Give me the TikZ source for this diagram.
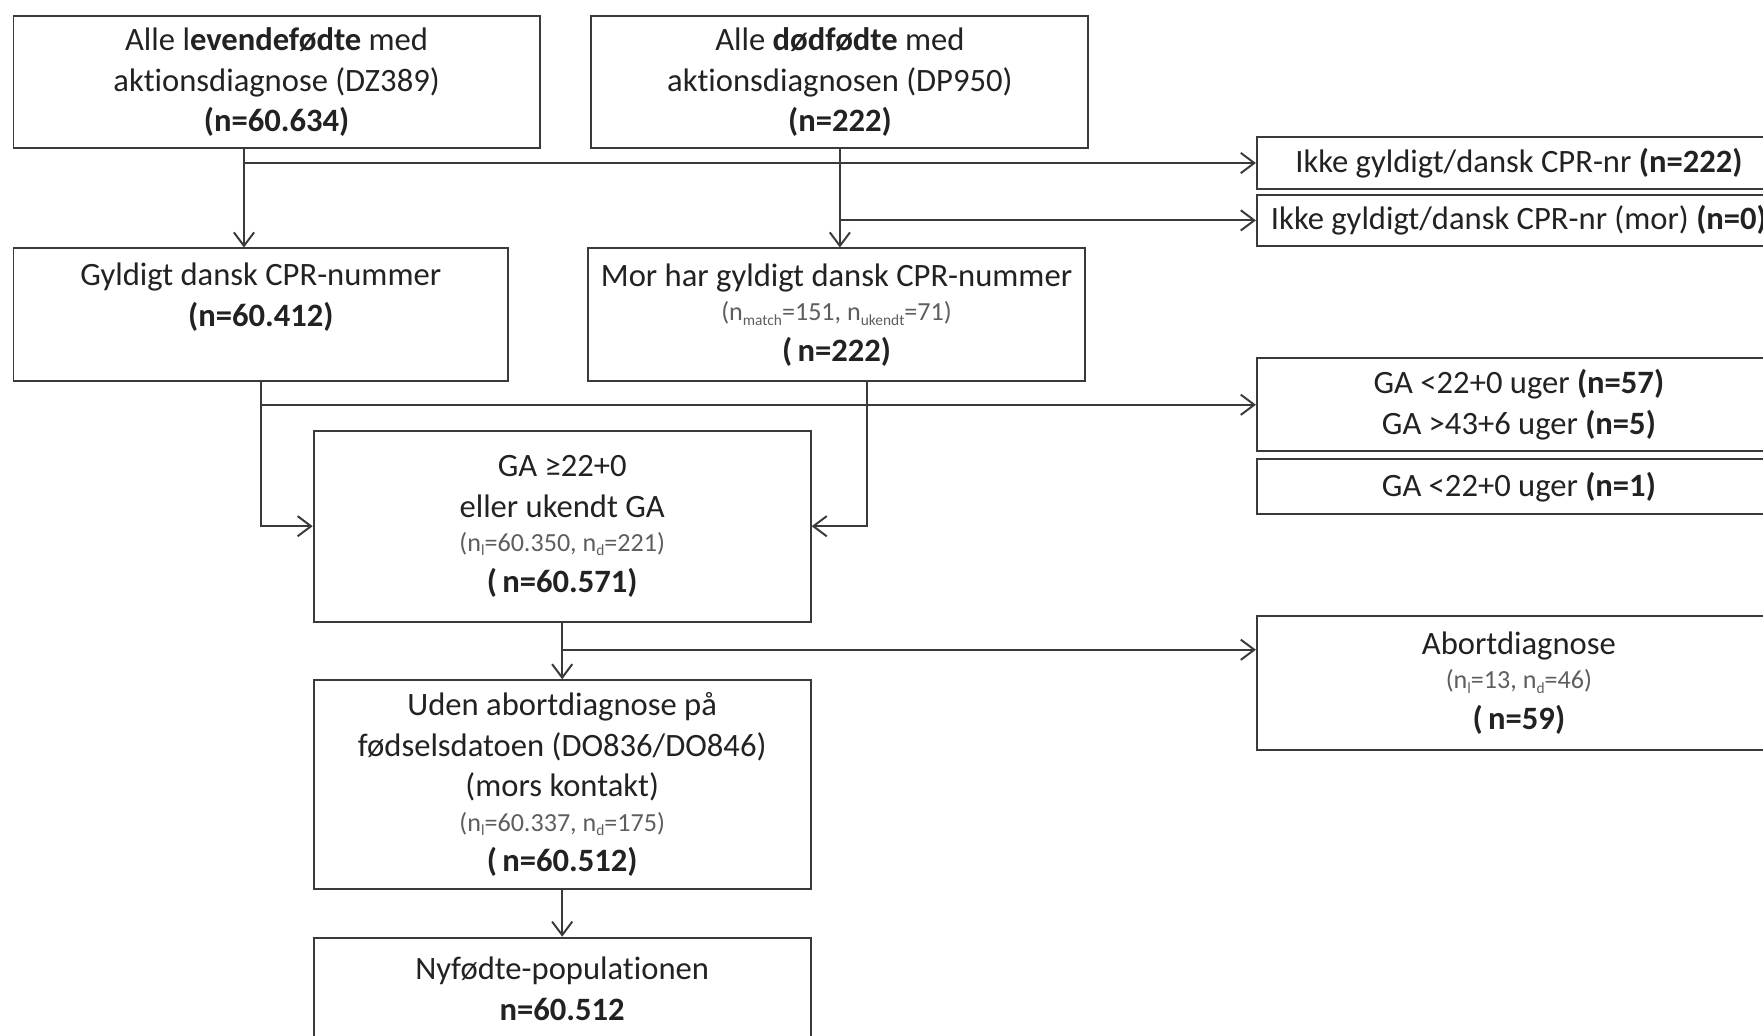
\documentclass[tikz,border=0pt]{standalone}
\usepackage{fontspec}
\setmainfont{Carlito}[Ligatures=NoCommon]
\setsansfont{Carlito}[Ligatures=NoCommon]
\usepackage{tikz}
\usetikzlibrary{arrows.meta,positioning,calc}
\definecolor{lineGray}{HTML}{3A3A3A}
\definecolor{textDark}{HTML}{222222}
\definecolor{textMuted}{HTML}{5E5E5E}
\newcommand{\nsub}[1]{n\raisebox{-0.35ex}{\fontsize{7.8}{8}\selectfont #1}}
\newcommand{\counts}[1]{{\fontsize{13.2}{16.5}\selectfont\color{textMuted}#1}}
\tikzset{
  >={Straight Barb[length=2.4mm,width=3.6mm]},
  every picture/.append style={font=\sffamily\fontsize{16.5}{20.5}\selectfont},
  box/.style={rectangle,draw=lineGray,line width=1pt,fill=white,inner sep=4pt,align=center,text=textDark},
  sidebox/.style={box,anchor=west,minimum width=9.32cm},
  flowarrow/.style={->,draw=lineGray,line width=1pt},
}

\begin{document}
\begin{tikzpicture}[x=1cm,y=1cm]
  \useasboundingbox (0,0) rectangle (31.36,-18.42);
  \clip (0,0) rectangle (31.36,-18.42);

  % top row
  \node[box, minimum width=9.36cm, minimum height=2.34cm] (live) at (4.92,-1.46)
    {Alle l\textbf{evendefødte} med\\aktionsdiagnose (DZ389)\\\textbf{(n=60.634)}};
  \node[box, minimum width=8.84cm, minimum height=2.36cm] (dead) at (14.94,-1.46)
    {Alle \textbf{dødfødte} med\\aktionsdiagnosen (DP950)\\\textbf{(n=222)}};

  % second row
  \node[box, minimum width=8.8cm, minimum height=2.36cm] (gyld) at (4.64,-5.6)
    {Gyldigt dansk CPR-nummer\\\textbf{(n=60.412)}\\\mbox{}};
  \node[box, minimum width=8.84cm, minimum height=2.36cm] (mor) at (14.88,-5.6)
    {Mor har gyldigt dansk CPR-nummer\\[-3pt]\counts{(\nsub{match}=151, \nsub{ukendt}=71)}\\\textbf{(\,n=222)}};

  % main column
  \node[box, minimum width=8.84cm, minimum height=3.4cm] (ga) at (10.0,-9.36)
    {GA ≥22+0\\eller ukendt GA\\[-3pt]\counts{(\nsub{l}=60.350, \nsub{d}=221)}\\\textbf{(\,n=60.571)}};
  \node[box, minimum width=8.84cm, minimum height=3.72cm] (uden) at (10.0,-13.96)
    {Uden abortdiagnose på\\fødselsdatoen (DO836/DO846)\\(mors kontakt)\\[-3pt]\counts{(\nsub{l}=60.337, \nsub{d}=175)}\\\textbf{(\,n=60.512)}};
  \node[box, minimum width=8.84cm, minimum height=1.82cm] (nyf) at (10.0,-17.59)
    {Nyfødte-populationen\\\textbf{n=60.512}};

  % exclusions
  \node[sidebox, minimum height=0.92cm] (ikkecpr) at (22.34,-2.9)
    {Ikke gyldigt/dansk CPR-nr \textbf{(n=222)}};
  \node[sidebox, minimum height=0.92cm] (ikkemor) at (22.34,-3.92)
    {Ikke gyldigt/dansk CPR-nr (mor) \textbf{(n=0)}};
  \node[sidebox, minimum height=1.66cm] (gaex) at (22.34,-7.2)
    {GA <22+0 uger \textbf{(n=57)}\\GA >43+6 uger \textbf{(n=5)}};
  \node[sidebox, minimum height=0.98cm] (gaone) at (22.34,-8.66)
    {GA <22+0 uger \textbf{(n=1)}};
  \node[sidebox, minimum height=2.38cm] (abort) at (22.34,-12.15)
    {Abortdiagnose\\[-3pt]\counts{(\nsub{l}=13, \nsub{d}=46)}\\\textbf{(\,n=59)}};

  % flows
  \coordinate (livedrop) at ([xshift=-0.58cm]live.south);
  \draw[flowarrow] (livedrop) -- (livedrop |- gyld.north);
  \draw[flowarrow] (livedrop |- ikkecpr.west) -- (ikkecpr.west);

  \draw[flowarrow] (dead.south) -- (dead.south |- mor.north);
  \draw[flowarrow] (dead.south |- ikkemor.west) -- (ikkemor.west);

  \draw[flowarrow] (gyld.south) |- (ga.west);
  \draw[flowarrow] (gyld.south |- gaex.west) -- (gaex.west);

  \coordinate (mordrop) at ([xshift=0.54cm]mor.south);
  \draw[flowarrow] (mordrop) |- (ga.east);

  \draw[flowarrow] (ga.south) -- (uden.north);
  \coordinate (gasplit) at ([yshift=-0.48cm]ga.south);
  \draw[flowarrow] (gasplit) -- (gasplit -| abort.west);

  \draw[flowarrow] (uden.south) -- (nyf.north);
\end{tikzpicture}
\end{document}
